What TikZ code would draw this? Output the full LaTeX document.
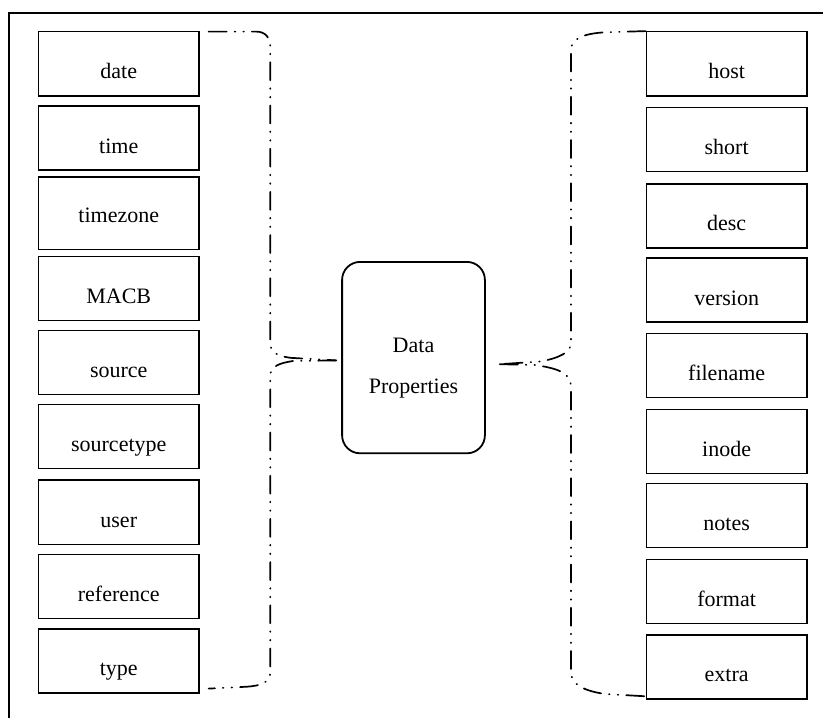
\documentclass[tikz,border=0pt]{standalone}
\usepackage{fontspec}
\setmainfont{Liberation Serif}
\begin{document}
\begin{tikzpicture}[x=1pt,y=-1pt,
  field/.style={draw, line width=1.3pt, anchor=north west, inner sep=0pt,
    minimum width=160.6pt, text height=47.1pt, text depth=17pt,
    font=\fontsize{22}{26}\selectfont},
  hub/.style={draw, line width=1.8pt, rounded corners=18pt, anchor=north west,
    inner sep=0pt, minimum width=142.8pt, minimum height=191.4pt, align=center,
    font=\fontsize{22}{41.3}\selectfont},
  brace/.style={line width=1.7pt, line cap=round,
    dash pattern=on 18pt off 8pt on 0.6pt off 8pt on 0.6pt off 8pt}]
\useasboundingbox (0,0) rectangle (823,718);

% outer frame (only its top and left edges fall on the page)
\draw[line width=1.8pt] (823,13) -- (9,13) -- (9,718);

% left column of fields
\node[field] (date)       at (37.8,31.1)  {date};
\node[field] (time)       at (37.8,105.3) {time};
\node[field, text height=45.7pt, text depth=26.6pt] (timezone) at (37.8,176.3) {timezone};
\node[field] (macb)       at (37.8,255.5) {MACB};
\node[field] (source)     at (37.8,329.7) {source};
\node[field] (sourcetype) at (37.8,403.8) {sourcetype};
\node[field] (user)       at (37.8,479.4) {user};
\node[field] (reference)  at (37.8,554.0) {reference};
\node[field] (type)       at (37.8,628.2) {type};

% right column of fields
\node[field] (host)     at (645.7,31.1)  {host};
\node[field] (short)    at (645.7,106.7) {short};
\node[field] (desc)     at (645.7,183.2) {desc};
\node[field] (version)  at (645.7,257.3) {version};
\node[field] (filename) at (645.7,332.9) {filename};
\node[field] (inode)    at (645.7,408.9) {inode};
\node[field] (notes)    at (645.7,483.0) {notes};
\node[field] (format)   at (645.7,558.6) {format};
\node[field] (extra)    at (645.7,634.2) {extra};

% central node
\node[hub] (props) at (341.2,261) {\rule{0pt}{35pt}Data\\Properties};

% brace tips next to the central node
\coordinate (ltip) at ([xshift=-5pt,yshift=-2.8pt]props.west);
\coordinate (rtip) at ([xshift=14pt,yshift=-6.6pt]props.east);

% left brace
\draw[brace] ([xshift=9pt,yshift=-0.5pt]date.north east) -- (256,31.6)
  .. controls (266,31.6) and (270.3,38) .. (270.3,48) -- (270.3,343)
  .. controls (270.3,352) and (276,355.5) .. (290,357.8) -- (ltip);
\draw[brace] (ltip) -- (293,361)
  .. controls (280,363) and (270.3,366) .. (270.3,376) -- (270.3,672)
  .. controls (270.3,682) and (262,686) .. (245,686.8)
  -- ([xshift=9pt,yshift=5pt]type.south east);

% right brace
\draw[brace] (host.north west) -- (605,32.3)
  .. controls (585,33.5) and (571,38) .. (571,50) -- (571,343)
  .. controls (571,352) and (560,358) .. (540,361.5) -- (rtip);
\draw[brace] (rtip) -- (535,365)
  .. controls (555,368) and (571,372) .. (571,386) -- (571,672)
  .. controls (571,685) and (585,691) .. (605,694)
  -- ([yshift=3.3pt]extra.south west);
\end{tikzpicture}
\end{document}
